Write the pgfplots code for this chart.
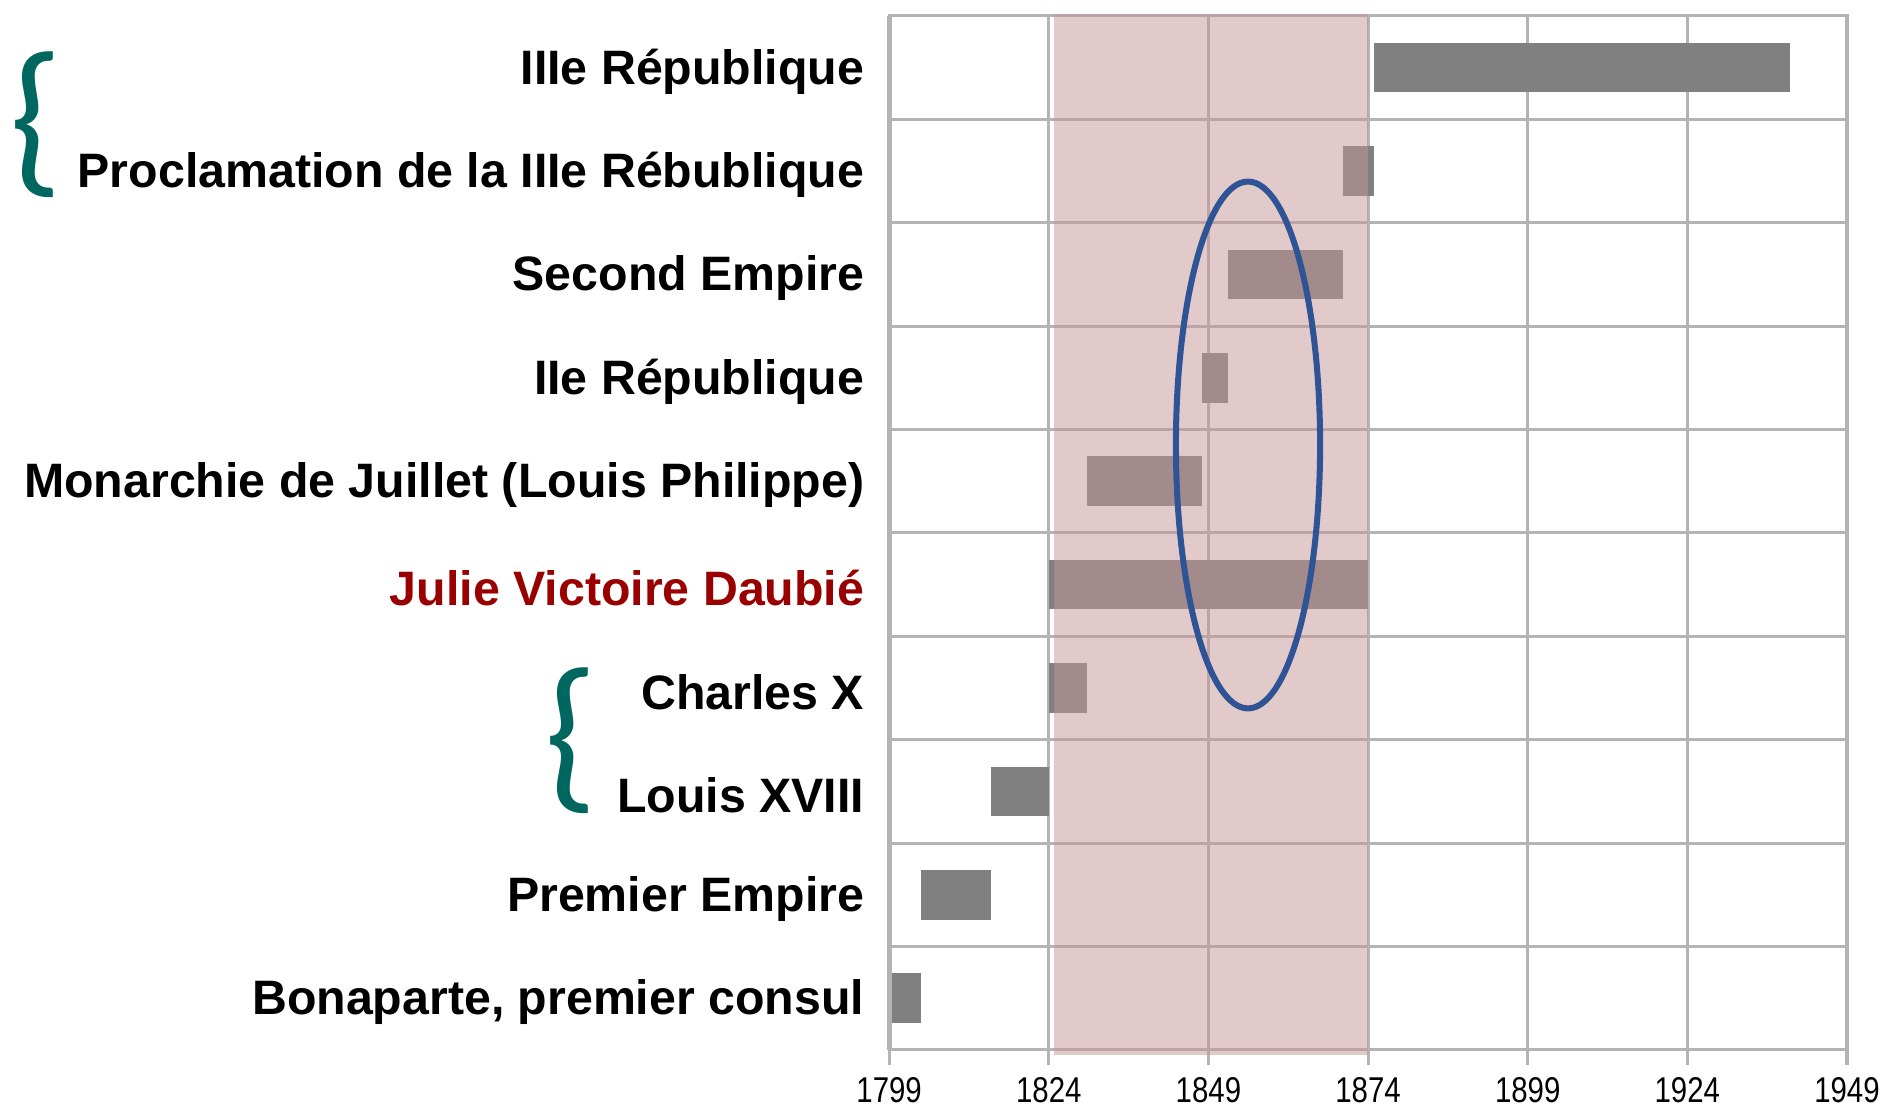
\documentclass[border=0pt]{standalone}
\usepackage{fontspec}
\setmainfont{Liberation Sans}
\newfontfamily\narrowfont[FakeStretch=0.82]{Liberation Sans}
\newfontfamily\bracefont{Carlito}
\usepackage{pgfplots}
\pgfplotsset{compat=1.18}
\definecolor{axisgray}{RGB}{180,180,180}
\definecolor{barcol}{RGB}{128,128,128}
\definecolor{shadecol}{RGB}{199,150,150}
\definecolor{ellblue}{RGB}{47,84,150}
\definecolor{julie}{RGB}{153,0,0}
\definecolor{braceteal}{RGB}{0,102,96}
\begin{document}
\begin{tikzpicture}
\path[use as bounding box] (-235.6pt,-16.2pt) rectangle (264.4pt,278.2pt);
\begin{axis}[
  at={(0,0)}, anchor=south west,
  scale only axis, width=253.8pt, height=274pt,
  xmin=1799, xmax=1949, ymin=-0.5, ymax=9.5,
  clip=false,
  axis line style={axisgray, line width=0.8pt},
  xtick={1799,1824,1849,1874,1899,1924,1949},
  xticklabels={1799,1824,1849,1874,1899,1924,1949},
  xtick pos=bottom, ytick pos=left,
  tick align=outside,
  major tick length=4pt,
  xtick style={axisgray, line width=0.8pt},
  xmajorgrids=true,
  major grid style={axisgray, line width=0.8pt},
  ytick={0,...,9},
  yticklabels={{Bonaparte, premier consul},{Premier Empire},{Louis XVIII},{Charles X},{\color{julie}Julie Victoire Daubié},{Monarchie de Juillet (Louis Philippe)},{IIe République},{Second Empire},{Proclamation de la IIIe Rébublique},{IIIe République}},
  ytick style={draw=none},
  minor ytick={-0.5,0.5,...,9.5},
  yminorgrids=true,
  minor grid style={axisgray, line width=0.8pt},
  minor tick length=3.5pt,
  minor y tick style={axisgray, line width=1.8pt},
  yticklabel style={font=\bfseries\fontsize{12.8}{14}\selectfont, anchor=east, inner sep=0pt, xshift=-2.4pt, yshift=-1pt},
  xticklabel style={font=\narrowfont\fontsize{9.5}{11}\selectfont, anchor=north, inner sep=0pt, yshift=-3pt},
  /pgf/number format/assume math mode=true,
  bar/.style={fill=barcol, draw=none},
]
% floating bars: start year, end year, row
\addplot[bar] coordinates {(1799,-0.24) (1804,-0.24) (1804,0.24) (1799,0.24)} -- cycle;
\addplot[bar] coordinates {(1804,0.76) (1815,0.76) (1815,1.24) (1804,1.24)} -- cycle;
\addplot[bar] coordinates {(1815,1.76) (1824,1.76) (1824,2.24) (1815,2.24)} -- cycle;
\addplot[bar] coordinates {(1824,2.76) (1830,2.76) (1830,3.24) (1824,3.24)} -- cycle;
\addplot[bar] coordinates {(1824,3.76) (1874,3.76) (1874,4.24) (1824,4.24)} -- cycle;
\addplot[bar] coordinates {(1830,4.76) (1848,4.76) (1848,5.24) (1830,5.24)} -- cycle;
\addplot[bar] coordinates {(1848,5.76) (1852,5.76) (1852,6.24) (1848,6.24)} -- cycle;
\addplot[bar] coordinates {(1852,6.76) (1870,6.76) (1870,7.24) (1852,7.24)} -- cycle;
\addplot[bar] coordinates {(1870,7.76) (1875,7.76) (1875,8.24) (1870,8.24)} -- cycle;
\addplot[bar] coordinates {(1875,8.76) (1940,8.76) (1940,9.24) (1875,9.24)} -- cycle;
\draw[axisgray, line width=1.3pt] (axis cs:1799,-0.5) -- (axis cs:1799,9.5);
% life span of Julie Victoire Daubie
\addplot[fill=shadecol, fill opacity=0.5, draw=none] coordinates {(1824.8,-0.55) (1874,-0.55) (1874,9.52) (1824.8,9.52)} -- cycle;
\draw[ellblue, line width=1.6pt] (axis cs:1855.2,5.35) ellipse [x radius=19.1pt, y radius=69.8pt];
\node[text=braceteal, inner sep=0pt, font=\bracefont\fontsize{45}{45}\selectfont] at (axis cs:1799,8.45) [xshift=-226pt] {\{};
\node[text=braceteal, inner sep=0pt, font=\bracefont\fontsize{45}{45}\selectfont] at (axis cs:1799,2.49) [xshift=-84.2pt] {\{};
\end{axis}
\end{tikzpicture}
\end{document}
